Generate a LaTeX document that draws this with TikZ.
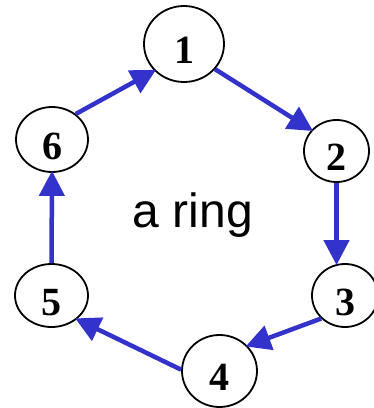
\documentclass[tikz,border=0pt]{standalone}
\usepackage{fontspec}
\setmainfont{Liberation Serif}
\setsansfont{Liberation Sans}
\usetikzlibrary{arrows.meta,shapes.geometric}
\definecolor{ringblue}{RGB}{51,51,204}
\tikzset{
  ringnode/.style={ellipse, draw=black, line width=1.8pt, inner sep=0pt,
    font=\fontsize{40}{40}\selectfont\bfseries, text height=39pt, text depth=0pt},
  ringarrow/.style={draw=ringblue, line width=4.5pt,
    -{Triangle[length=25pt, width=25pt]}, shorten >=-2pt}
}
\begin{document}
\begin{tikzpicture}[x=1pt, y=-1pt]
  \useasboundingbox (0,0) rectangle (374,408);
  \clip (0,0) rectangle (374,408);
  \node[ringnode, minimum width=80pt, minimum height=76pt] (n1) at (184,44) {1};
  \node[ringnode, minimum width=65pt, minimum height=62pt] (n2) at (336.5,151) {2};
  \node[ringnode, minimum width=66pt, minimum height=63pt] (n3) at (345,295.5) {3};
  \node[ringnode, minimum width=75pt, minimum height=72pt] (n4) at (219.5,371) {4};
  \node[ringnode, minimum width=73pt, minimum height=63pt] (n5) at (51.5,295.5) {5};
  \node[ringnode, minimum width=72pt, minimum height=65pt] (n6) at (52,139.5) {6};
  \node[font=\sffamily\fontsize{48}{48}\selectfont, anchor=base] (lbl) at (193,227) {a ring};
  \draw[ringarrow] (n1.-39) -- (n2.140);
  \draw[ringarrow] (n2.south) -- (n2.south |- n3.north);
  \draw[ringarrow] (n3.224) -- (n4.42);
  \draw[ringarrow] (n4.178) -- (n5.-43);
  \draw[ringarrow] (n5.north) -- (n6.south);
  \draw[ringarrow] (n6.47) -- (n1.-138);
\end{tikzpicture}
\end{document}
